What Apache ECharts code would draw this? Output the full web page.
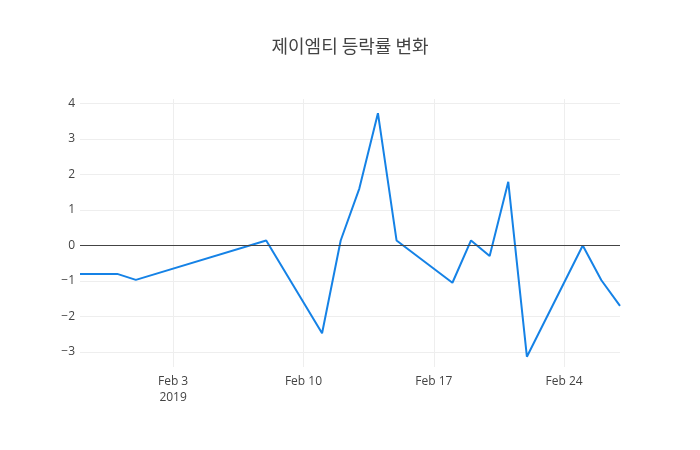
<!DOCTYPE html>
<html>
<head>
<meta charset="utf-8">
<script src="https://cdn.jsdelivr.net/npm/echarts@6/dist/echarts.min.js"></script>
<style>
  html, body { margin: 0; padding: 0; background: #fff; }
  #chart { width: 700px; height: 450px; }
</style>
</head>
<body>
<div id="chart"></div>
<script>
// 거래일과 등락률(%)
var dates = ['2019-01-29', '2019-01-30', '2019-01-31', '2019-02-01', '2019-02-08',
             '2019-02-11', '2019-02-12', '2019-02-13', '2019-02-14', '2019-02-15',
             '2019-02-18', '2019-02-19', '2019-02-20', '2019-02-21', '2019-02-22',
             '2019-02-25', '2019-02-26', '2019-02-27'];
var rates = [-0.8, -0.8, -0.8, -0.97, 0.14,
             -2.47, 0.14, 1.6, 3.72, 0.14,
             -1.05, 0.14, -0.3, 1.79, -3.13,
             0.0, -0.98, -1.7];

// x축 눈금
var xTickDates = ['2019-02-03', '2019-02-10', '2019-02-17', '2019-02-24'];
var xTickLabels = ['Feb 3\n2019', 'Feb 10', 'Feb 17', 'Feb 24'];
var xRange = ['2019-01-29', '2019-02-27'];

// y축 눈금
var yTicks = [-3, -2, -1, 0, 1, 2, 3, 4];
var yRange = [-3.42, 4.12];

// 날짜 -> ms (UTC)
function ts(s) {
    return Date.parse(s + 'T00:00:00Z');
}

var xTickTs = xTickDates.map(ts);
var seriesData = dates.map(function (d, i) {
    return [ts(d), rates[i]];
});

var chart = echarts.init(document.getElementById('chart'));

var option = {
    animation: false,
    backgroundColor: '#fff',
    title: {
        text: '제이엠티 등락률 변화',
        left: 'center',
        top: 32,
        textStyle: {
            fontFamily: '"Noto Sans CJK KR", "Open Sans", sans-serif',
            fontSize: 18,
            fontWeight: 'normal',
            color: '#444'
        }
    },
    grid: {
        left: 80,
        right: 80,
        top: 99,
        bottom: 83
    },
    xAxis: {
        type: 'value',
        min: ts(xRange[0]),
        max: ts(xRange[1]),
        axisLine: { show: false },
        axisTick: { show: false, customValues: xTickTs },
        axisLabel: {
            customValues: xTickTs,
            margin: 7,
            fontFamily: '"Open Sans", sans-serif',
            fontSize: 12,
            color: '#444',
            lineHeight: 16,
            formatter: function (value) {
                var i = xTickTs.indexOf(value);
                return i >= 0 ? xTickLabels[i] : '';
            }
        },
        splitLine: {
            show: true,
            lineStyle: { color: '#eee', width: 1 }
        }
    },
    yAxis: {
        type: 'value',
        min: yRange[0],
        max: yRange[1],
        axisLine: { show: false },
        axisTick: { show: false, customValues: yTicks },
        axisLabel: {
            customValues: yTicks,
            margin: 5,
            fontFamily: '"Open Sans", sans-serif',
            fontSize: 12,
            color: '#444',
            formatter: function (v) {
                return String(v).replace('-', '\u2212');
            }
        },
        splitLine: {
            show: true,
            lineStyle: { color: '#eee', width: 1 }
        }
    },
    series: [{
        type: 'line',
        data: seriesData,
        symbol: 'none',
        lineStyle: { color: '#1582e6', width: 2 },
        itemStyle: { color: '#1582e6' },
        markLine: {
            silent: true,
            symbol: 'none',
            label: { show: false },
            lineStyle: { color: '#444', width: 1, type: 'solid' },
            data: [{ yAxis: 0 }]
        },
        z: 3
    }]
};

chart.setOption(option);
</script>
</body>
</html>
